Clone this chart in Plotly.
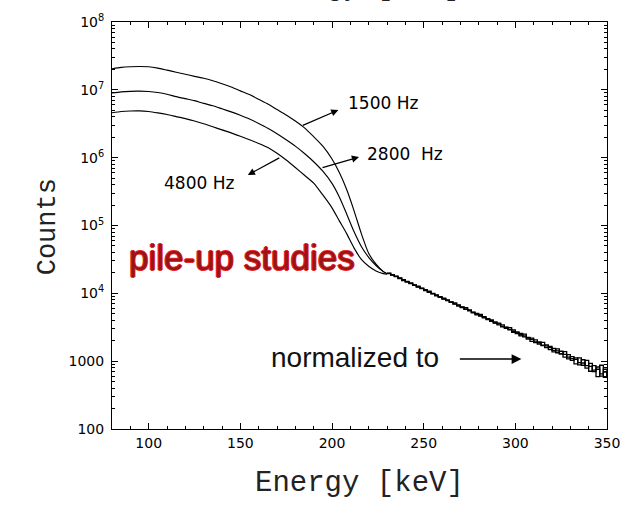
import plotly.graph_objects as go

# ---------------- data ----------------
head_energy = [80, 85, 90, 95, 100, 105, 110, 115, 120, 125, 130, 135, 140, 145,
               150, 155, 160, 165, 170, 175, 180, 185, 190, 195, 200, 204, 208,
               212, 216, 220, 224, 228, 230]

head_1500 = [2.04e7, 2.14e7, 2.19e7, 2.21e7, 2.19e7, 2.09e7, 1.95e7, 1.82e7, 1.70e7,
             1.58e7, 1.48e7, 1.36e7, 1.23e7, 1.10e7, 9.66e6, 8.51e6, 7.24e6, 6.17e6,
             5.13e6, 4.27e6, 3.47e6, 2.75e6, 2.04e6, 1.48e6, 9.55e5, 6.03e5, 3.39e5,
             1.66e5, 7.59e4, 3.89e4, 2.69e4, 2.09e4, 1.95e4]

head_2800 = [8.97e6, 9.33e6, 9.51e6, 9.55e6, 9.44e6, 9.12e6, 8.61e6, 7.94e6, 7.41e6,
             6.92e6, 6.31e6, 5.82e6, 5.25e6, 4.73e6, 4.22e6, 3.72e6, 3.20e6, 2.72e6,
             2.26e6, 1.84e6, 1.48e6, 1.15e6, 8.71e5, 6.31e5, 4.17e5, 2.63e5, 1.48e5,
             8.13e4, 4.90e4, 3.39e4, 2.57e4, 2.09e4, 1.95e4]

head_4800 = [4.60e6, 4.79e6, 4.88e6, 4.90e6, 4.79e6, 4.57e6, 4.32e6, 4.03e6, 3.76e6,
             3.47e6, 3.16e6, 2.85e6, 2.57e6, 2.32e6, 2.07e6, 1.84e6, 1.62e6, 1.41e6,
             1.16e6, 9.23e5, 7.16e5, 5.50e5, 4.22e5, 2.82e5, 1.82e5, 1.17e5, 7.59e4,
             4.68e4, 3.16e4, 2.51e4, 2.14e4, 1.95e4, 1.91e4]

tail_energy = list(range(230, 351, 2))

tail_1500 = [19900, 18500, 17900, 16700, 15400, 15000, 14000, 13100, 12750, 11800,
             11000, 10800, 10000, 9160, 8830, 8500, 7790, 7430, 7220, 6490,
             6240, 6130, 5500, 5300, 4800, 4910, 4410, 4090, 4050, 3670,
             3640, 3200, 3180, 3120, 2670, 2700, 2360, 2500, 2240, 1960,
             2060, 1790, 1890, 1580, 1650, 1370, 1520, 1280, 1380, 1080,
             1170, 915, 1120, 870, 1030, 710, 857, 590, 870, 576, 710]

tail_2800 = [19700, 18800, 17600, 16900, 15800, 14700, 14200, 13300, 12400, 11900,
             11300, 10300, 9800, 9500, 8700, 8300, 8000, 7350, 7000, 6750,
             6150, 5850, 5700, 5150, 5050, 4600, 4550, 4250, 3850, 3800,
             3420, 3420, 3050, 2900, 2880, 2540, 2560, 2280, 2120, 2190,
             1880, 1920, 1700, 1740, 1480, 1540, 1330, 1400, 1150, 1250,
             1030, 1120, 880, 1050, 790, 930, 700, 820, 600, 760, 560]

tail_4800 = [19500, 18700, 17800, 16500, 15900, 14900, 13900, 13250, 12500, 11700,
             11150, 10550, 9900, 9300, 8950, 8250, 7850, 7500, 6950, 6650,
             6300, 5800, 5600, 5250, 4900, 4700, 4350, 4200, 3950, 3650,
             3550, 3250, 3150, 2950, 2720, 2640, 2450, 2360, 2180, 2100,
             1930, 1880, 1720, 1680, 1590, 1440, 1420, 1280, 1260, 1150,
             1090, 1060, 950, 940, 860, 840, 740, 760, 650, 690, 600]

y_tickvals = [100, 1000, 1e4, 1e5, 1e6, 1e7, 1e8]
y_ticktext = ["100", "1000", "10<sup>4</sup>", "10<sup>5</sup>", "10<sup>6</sup>",
              "10<sup>7</sup>", "10<sup>8</sup>"]
x_tickvals = [100, 150, 200, 250, 300, 350]

# ---------------- figure ----------------
fig = go.Figure()
for head, tail in [(head_1500, tail_1500), (head_2800, tail_2800), (head_4800, tail_4800)]:
    fig.add_trace(go.Scatter(x=head_energy, y=head, mode="lines",
                             line=dict(color="black", width=1.15, shape="spline", smoothing=0.6),
                             showlegend=False, hoverinfo="skip"))
    fig.add_trace(go.Scatter(x=tail_energy, y=tail, mode="lines",
                             line=dict(color="black", width=1.3, shape="hv"),
                             showlegend=False, hoverinfo="skip"))

tick_font = dict(family="DejaVu Sans", size=14, color="black")
minor_y = [m * 10 ** e for e in range(2, 8) for m in range(2, 10)]

fig.update_xaxes(range=[80, 350], showline=True, linecolor="black", linewidth=1,
                 mirror="allticks", ticks="inside", ticklen=6, tickcolor="black",
                 tickmode="array", tickvals=x_tickvals, tickfont=tick_font,
                 ticklabelstandoff=1,
                 minor=dict(ticks="inside", ticklen=3, dtick=10, tick0=80,
                            tickcolor="black", showgrid=False),
                 showgrid=False, zeroline=False)
fig.update_yaxes(type="log", range=[2, 8], showline=True, linecolor="black", linewidth=1,
                 mirror="allticks", ticks="inside", ticklen=6, tickcolor="black",
                 tickmode="array", tickvals=y_tickvals, ticktext=y_ticktext,
                 tickfont=tick_font, ticklabelstandoff=4,
                 minor=dict(ticks="inside", ticklen=3, tickmode="array", tickvals=minor_y,
                            tickcolor="black", showgrid=False),
                 showgrid=False, zeroline=False)

L, T, W, H = 112, 22, 503, 407


def px(x):
    return (x - L) / W


def py(y):
    return (T + H - y) / H


ann = []
mono = "Courier New, Liberation Mono, monospace"
ann.append(dict(text="Counts", x=px(30), y=py(227), xref="paper", yref="paper",
                textangle=-90, showarrow=False, font=dict(family=mono, size=27, color="#222222")))
ann.append(dict(text="Energy [keV]", x=px(363), y=py(502), xref="paper", yref="paper",
                showarrow=False, font=dict(family=mono, size=29, color="#222222")))
ann.append(dict(text="Energy [keV]", x=px(364), y=py(5), xref="paper", yref="paper",
                yanchor="bottom", showarrow=False,
                font=dict(family=mono, size=28, color="#222222")))

label_font = dict(family="DejaVu Sans", size=17, color="black")
ann.append(dict(text="1500 Hz", x=px(350), y=py(103), xref="paper", yref="paper",
                xanchor="left", yanchor="middle", showarrow=False, font=label_font))
ann.append(dict(text="2800\u00a0\u00a0Hz", x=px(369), y=py(154), xref="paper", yref="paper",
                xanchor="left", yanchor="middle", showarrow=False, font=label_font))
ann.append(dict(text="4800 Hz", x=px(163), y=py(183), xref="paper", yref="paper",
                xanchor="left", yanchor="middle", showarrow=False, font=label_font))

arrow_style = dict(xref="paper", yref="paper", text="", showarrow=True, arrowhead=2,
                   arrowsize=1.1, arrowwidth=1.3, arrowcolor="black",
                   axref="pixel", ayref="pixel")
ann.append(dict(x=px(342), y=py(110), ax=305 - 342, ay=126 - 110, **arrow_style))
ann.append(dict(x=px(363), y=py(157), ax=325 - 363, ay=168 - 157, **arrow_style))
ann.append(dict(x=px(250), y=py(175), ax=283 - 250, ay=157 - 175, **arrow_style))

red = "#e8262b"
ann.append(dict(text="pile-up studies", x=px(127), y=py(257), xref="paper", yref="paper",
                xanchor="left", yanchor="middle", showarrow=False,
                font=dict(family="Liberation Sans, Arial", size=35, color="#9a1414",
                          shadow=f"1px 0 0 {red}, -1px 0 0 {red}, 0 1px 0 {red}, 0 -1px 0 {red}")))
ann.append(dict(text="normalized to", x=px(272), y=py(357), xref="paper", yref="paper",
                xanchor="left", yanchor="middle", showarrow=False,
                font=dict(family="Liberation Sans, Arial", size=28, color="#111111")))
ann.append(dict(x=px(528), y=py(359), ax=465 - 528, ay=0, xref="paper", yref="paper",
                text="", showarrow=True, arrowhead=2, arrowsize=1.3, arrowwidth=1.5,
                arrowcolor="black", axref="pixel", ayref="pixel"))

fig.update_layout(width=632, height=513, margin=dict(l=L, r=632 - L - W, t=T, b=513 - T - H),
                  paper_bgcolor="white", plot_bgcolor="white", annotations=ann,
                  showlegend=False)

fig.write_html("out.html")
